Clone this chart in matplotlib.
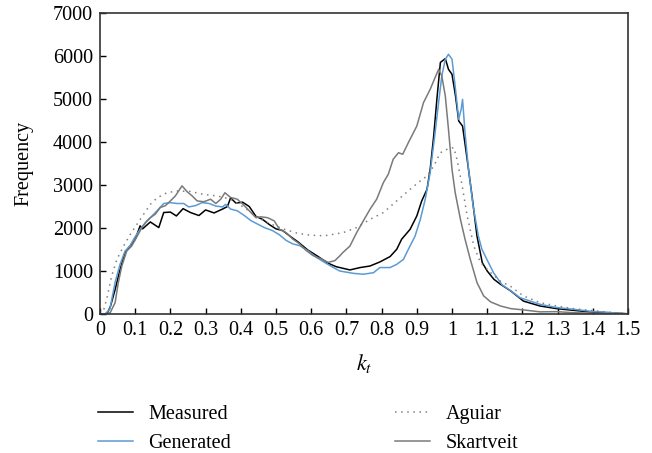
import matplotlib
matplotlib.use('Agg')
import matplotlib.pyplot as plt

# Measured
kt_meas = [0, 0.02, 0.03, 0.043, 0.057, 0.071, 0.086, 0.1, 0.114, 0.121, 0.143, 0.167, 0.181, 0.2,
           0.217, 0.236, 0.257, 0.281, 0.3, 0.324, 0.348, 0.362, 0.371, 0.386, 0.405, 0.424, 0.443,
           0.462, 0.481, 0.5, 0.519, 0.543, 0.562, 0.59, 0.619, 0.648, 0.671, 0.71, 0.739, 0.767,
           0.795, 0.824, 0.843, 0.857, 0.881, 0.9, 0.914, 0.929, 0.938, 0.948, 0.957, 0.967, 0.981,
           0.99, 1.0, 1.01, 1.019, 1.03, 1.043, 1.057, 1.071, 1.086, 1.1, 1.119, 1.138, 1.167, 1.203,
           1.25, 1.297, 1.345, 1.392, 1.44, 1.487, 1.5]
measured = [0, 0, 185, 570, 1040, 1430, 1580, 1740, 2050, 1980, 2140, 2010, 2360, 2370,
            2280, 2450, 2360, 2290, 2420, 2350, 2440, 2500, 2700, 2580, 2600, 2500, 2270,
            2200, 2080, 1980, 1940, 1790, 1680, 1490, 1340, 1180, 1100, 1025, 1080, 1116,
            1210, 1335, 1505, 1740, 1970, 2280, 2630, 2900, 3365, 4140, 4990, 5850, 5940,
            5690, 5575, 5070, 4490, 4370, 3600, 2740, 1810, 1195, 1000, 807, 690, 535, 300,
            186, 125, 85, 49, 30, 10, 5]

# Generated
kt_gen = [0, 0.014, 0.028, 0.043, 0.057, 0.071, 0.086, 0.1, 0.114, 0.129, 0.143, 0.162, 0.181, 0.2,
          0.219, 0.238, 0.252, 0.271, 0.29, 0.31, 0.329, 0.348, 0.357, 0.371, 0.39, 0.41, 0.429,
          0.448, 0.467, 0.49, 0.51, 0.529, 0.548, 0.567, 0.59, 0.614, 0.638, 0.662, 0.681, 0.72,
          0.748, 0.777, 0.795, 0.824, 0.843, 0.862, 0.876, 0.895, 0.91, 0.924, 0.938, 0.952, 0.962,
          0.971, 0.981, 0.99, 1.0, 1.009, 1.019, 1.026, 1.03, 1.037, 1.046, 1.06, 1.075, 1.085,
          1.099, 1.118, 1.142, 1.167, 1.193, 1.25, 1.297, 1.345, 1.392, 1.44, 1.487, 1.5]
generated = [0, 0, 110, 740, 1155, 1460, 1600, 1800, 1970, 2125, 2240, 2400, 2570, 2590,
             2570, 2570, 2490, 2520, 2590, 2570, 2510, 2490, 2550, 2440, 2400, 2290, 2170,
             2090, 2010, 1940, 1840, 1710, 1630, 1590, 1475, 1320, 1200, 1085, 1000, 945,
             925, 960, 1080, 1080, 1155, 1270, 1505, 1810, 2200, 2670, 3290, 4220, 4920,
             5535, 5925, 6040, 5925, 5300, 4530, 4760, 4990, 4220, 3440, 2510, 1810, 1505,
             1270, 960, 680, 540, 380, 225, 150, 110, 65, 40, 10, 5]

# Aguiar
kt_agu = [0, 0.01, 0.02, 0.033, 0.048, 0.067, 0.086, 0.105, 0.124, 0.143, 0.162, 0.19, 0.219,
          0.257, 0.295, 0.333, 0.371, 0.41, 0.448, 0.486, 0.524, 0.562, 0.6, 0.638, 0.69, 0.729,
          0.767, 0.805, 0.843, 0.881, 0.91, 0.929, 0.948, 0.967, 0.986, 1.005, 1.014, 1.029,
          1.043, 1.062, 1.081, 1.11, 1.138, 1.167, 1.203, 1.25, 1.297, 1.345, 1.392, 1.44,
          1.487, 1.5]
aguiar = [0, 80, 380, 880, 1270, 1580, 1850, 2085, 2320, 2550, 2700, 2820, 2860,
          2850, 2780, 2745, 2670, 2475, 2240, 2090, 1970, 1875, 1830, 1820, 1890, 2010,
          2200, 2360, 2630, 2900, 3095, 3210, 3440, 3750, 3830, 3870, 3600, 2980,
          2280, 1580, 1195, 960, 760, 640, 420, 265, 186, 125, 85, 45,
          15, 10]

# Skartveit
kt_ska = [0, 0.014, 0.029, 0.043, 0.052, 0.062, 0.076, 0.09, 0.105, 0.119, 0.133, 0.143, 0.157,
          0.171, 0.186, 0.2, 0.214, 0.233, 0.248, 0.262, 0.276, 0.295, 0.314, 0.329, 0.343,
          0.355, 0.371, 0.39, 0.405, 0.424, 0.443, 0.457, 0.476, 0.495, 0.51, 0.529, 0.548,
          0.567, 0.586, 0.605, 0.629, 0.648, 0.667, 0.681, 0.69, 0.71, 0.729, 0.748, 0.767,
          0.786, 0.805, 0.819, 0.833, 0.848, 0.86, 0.876, 0.9, 0.919, 0.938, 0.952, 0.962,
          0.971, 0.981, 0.99, 1.0, 1.009, 1.024, 1.037, 1.052, 1.071, 1.09, 1.11, 1.138,
          1.167, 1.203, 1.25, 1.297, 1.345, 1.39, 1.45, 1.5]
skartveit = [0, 0, 30, 265, 730, 1115, 1465, 1580, 1800, 2010, 2160, 2240, 2320,
             2475, 2520, 2630, 2745, 2980, 2840, 2745, 2630, 2610, 2670, 2570, 2670,
             2820, 2710, 2670, 2560, 2400, 2240, 2260, 2240, 2165, 1970, 1890, 1740,
             1630, 1475, 1360, 1280, 1200, 1240, 1350, 1430, 1580, 1890, 2165, 2435,
             2670, 3055, 3250, 3600, 3750, 3715, 3985, 4370, 4915, 5225, 5500, 5690,
             5535, 5070, 4295, 3365, 2825, 2200, 1740, 1270, 730, 420, 280, 186,
             125, 95, 50, 55, 30, 20, 10, 5]

xticks = [0, 0.1, 0.2, 0.3, 0.4, 0.5, 0.6, 0.7, 0.8, 0.9, 1, 1.1, 1.2, 1.3, 1.4, 1.5]
xticklabels = ['0', '0.1', '0.2', '0.3', '0.4', '0.5', '0.6', '0.7', '0.8', '0.9', '1',
               '1.1', '1.2', '1.3', '1.4', '1.5']
yticks = [0, 1000, 2000, 3000, 4000, 5000, 6000, 7000]

plt.rcParams['font.family'] = ['Liberation Serif', 'DejaVu Serif']
plt.rcParams['mathtext.fontset'] = 'stix'
plt.rcParams['font.size'] = 14.5

fig = plt.figure(figsize=(6.52, 4.53), dpi=100)
ax = fig.add_axes([100 / 652, 1 - 314 / 453, 528 / 652, 301 / 453])

l1, = ax.plot(kt_meas, measured, color='black', lw=1.1, label='Measured')
l2, = ax.plot(kt_gen, generated, color='#5b9bd5', lw=1.1, label='Generated')
l3, = ax.plot(kt_agu, aguiar, color='#808080', lw=1.1, linestyle=(0, (1, 3)), label='Aguiar')
l4, = ax.plot(kt_ska, skartveit, color='#7a7a7a', lw=1.1, label='Skartveit')

ax.set_xlim(0, 1.5)
ax.set_ylim(0, 7000)
ax.set_xticks(xticks)
ax.set_xticklabels(xticklabels)
ax.set_yticks(yticks)
ax.tick_params(direction='in', length=4, width=1, pad=5)
for s in ax.spines.values():
    s.set_linewidth(1.2)
    s.set_color('#333333')

ax.set_xlabel(r'$k_t$', fontsize=16, labelpad=9)
ax.set_ylabel('Frequency', labelpad=14)

# two legend columns placed separately
leg_opts = dict(loc='upper left', frameon=False, handlelength=1.75, handletextpad=0.75,
                labelspacing=0.5, borderaxespad=0, borderpad=0)
fig.legend([l1, l2], ['Measured', 'Generated'], bbox_to_anchor=(98 / 652, 1 - 405 / 453), **leg_opts)
fig.legend([l3, l4], ['Aguiar', 'Skartveit'], bbox_to_anchor=(395 / 652, 1 - 405 / 453), **leg_opts)

fig.savefig('out.png', dpi=100)
